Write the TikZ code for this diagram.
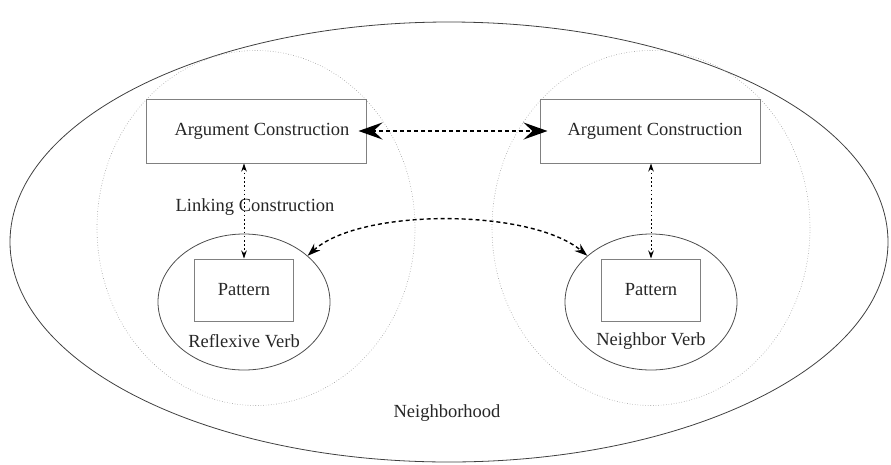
\documentclass[tikz,border=0pt]{standalone}
\usepackage{fontspec}
\setmainfont{Liberation Serif}
\usetikzlibrary{shapes.geometric,arrows.meta}
\begin{document}
\begin{tikzpicture}[x=1pt,y=-1pt,
  every node/.style={font=\fontsize{18.5}{22}\selectfont},
  outer/.style={ellipse,draw=black!75,line width=0.8pt,inner sep=0pt},
  group/.style={ellipse,draw=black!40,dotted,line width=0.6pt,inner sep=0pt},
  verb/.style={ellipse,draw=black!70,line width=0.8pt,inner sep=0pt},
  cbox/.style={rectangle,draw=black!50,line width=1pt,inner sep=0pt},
  label/.style={inner sep=0pt,text=black!85},
  bigarrow/.style={line width=2.3pt,dash pattern=on 4pt off 3pt,
    {Stealth[length=24pt,width=17pt,inset=9pt]}-{Stealth[length=24pt,width=17pt,inset=9pt]}},
  linkarrow/.style={line width=0.9pt,dash pattern=on 1.6pt off 2.6pt,
    {Stealth[length=8pt,width=5.5pt]}-{Stealth[length=8pt,width=5.5pt]}},
  curvearrow/.style={line width=1.4pt,dash pattern=on 4pt off 3pt,
    {Stealth[length=13pt,width=9pt]}-{Stealth[length=13pt,width=9pt]}}]
\useasboundingbox (0,0) rectangle (891,464);

% outer neighbourhood
\node[outer,minimum width=878pt,minimum height=440pt] (hood) at (449,242) {};
\node[label] (hoodlbl) at (447,413) {Neighborhood};

% the two construction groups
\node[group,minimum width=318pt,minimum height=355pt] (lgrp) at (256,228) {};
\node[group,minimum width=318pt,minimum height=355pt] (rgrp) at (651,228) {};

% argument constructions
\node[cbox,minimum width=220pt,minimum height=64pt] (largs) at (256,131) {};
\node[label] (largstxt) at (262,131) {Argument Construction};
\node[cbox,minimum width=220pt,minimum height=64pt] (rargs) at (650,131) {};
\node[label] (rargstxt) at (655,131) {Argument Construction};

\node[label] (linking) at (255,207) {Linking Construction};

% verbs with their patterns
\node[verb,minimum width=172pt,minimum height=136pt] (lverb) at (244,302) {};
\node[cbox,minimum width=99pt,minimum height=62pt] (lpat) at (244,290) {};
\node[label] (lpattxt) at (244,290) {Pattern};
\node[label] (lverbtxt) at (244,341) {Reflexive Verb};

\node[verb,minimum width=172pt,minimum height=136pt] (rverb) at (651,302) {};
\node[cbox,minimum width=99pt,minimum height=62pt] (rpat) at (651,290) {};
\node[label] (rpattxt) at (651,290) {Pattern};
\node[label] (rverbtxt) at (651,341) {Neighbor Verb};

% links
\draw[bigarrow,shorten <=-8pt,shorten >=-8pt] (largs.east) -- (rargs.west);
\draw[linkarrow] (largs.south -| lpat.north) -- (lpat.north);
\draw[linkarrow] (rargs.south -| rpat.north) -- (rpat.north);
\draw[curvearrow] (lverb.36) .. controls (360,208) and (530,208) .. (rverb.144);
\end{tikzpicture}
\end{document}
